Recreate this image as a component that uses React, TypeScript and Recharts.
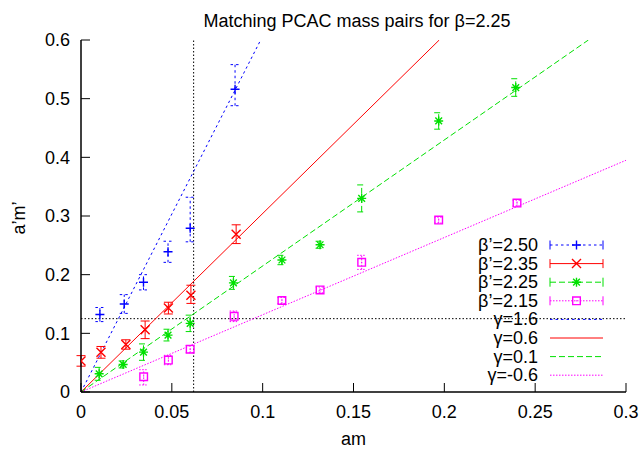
import React from 'react';
import { ComposedChart, XAxis, YAxis, Scatter, Line, ErrorBar, ReferenceLine, Legend } from 'recharts';

const FONT = '"Liberation Sans", Arial, Helvetica, sans-serif';
const FS = 18;

const TITLE = 'Matching PCAC mass pairs for β=2.25';
const X_LABEL = 'am';
const Y_LABEL = 'a’m’';

const xTicks = [0, 0.05, 0.1, 0.15, 0.2, 0.25, 0.3];
const xTickLabels = ['0', '0.05', '0.1', '0.15', '0.2', '0.25', '0.3'];
const yTicks = [0, 0.1, 0.2, 0.3, 0.4, 0.5, 0.6];
const yTickLabels = ['0', '0.1', '0.2', '0.3', '0.4', '0.5', '0.6'];

// beta' = 2.50 (blue)
const am250 = [0.0104, 0.0238, 0.0344, 0.0479, 0.0601, 0.0848];
const val250 = [0.132, 0.150, 0.187, 0.239, 0.279, 0.516];
const lo250 = [0.012, 0.016, 0.013, 0.018, 0.023, 0.028];
const hi250 = [0.012, 0.016, 0.013, 0.018, 0.053, 0.042];

// beta' = 2.35 (red)
const am235 = [0.0, 0.011, 0.0247, 0.0353, 0.0481, 0.0605, 0.0854];
const val235 = [0.053, 0.0676, 0.081, 0.106, 0.143, 0.165, 0.269];
const lo235 = [0.009, 0.01, 0.008, 0.015, 0.01, 0.014, 0.016];
const hi235 = [0.009, 0.01, 0.008, 0.015, 0.01, 0.017, 0.016];

// beta' = 2.25 (green)
const am225 = [0.01, 0.0232, 0.0344, 0.0479, 0.0601, 0.0839, 0.1106, 0.1316, 0.1545, 0.1969, 0.2393];
const val225 = [0.031, 0.047, 0.068, 0.097, 0.117, 0.186, 0.225, 0.251, 0.330, 0.462, 0.519];
const lo225 = [0.011, 0.006, 0.014, 0.01, 0.014, 0.011, 0.008, 0.006, 0.023, 0.014, 0.015];
const hi225 = [0.011, 0.006, 0.014, 0.01, 0.014, 0.011, 0.008, 0.006, 0.023, 0.014, 0.015];

// beta' = 2.15 (magenta)
const am215 = [0.0345, 0.0481, 0.0601, 0.0843, 0.1106, 0.1316, 0.1545, 0.1969, 0.24];
const val215 = [0.026, 0.0545, 0.073, 0.129, 0.156, 0.174, 0.221, 0.293, 0.322];
const lo215 = [0.014, 0.008, 0.006, 0.009, 0.005, 0.005, 0.012, 0.005, 0.005];
const hi215 = [0.012, 0.008, 0.006, 0.009, 0.005, 0.005, 0.012, 0.005, 0.005];

// gamma lines: start and end points
const g16Am = [0, 0.0989];
const g16Val = [0, 0.6];
const g06Am = [0, 0.1972];
const g06Val = [0, 0.6];
const g01Am = [0, 0.2793];
const g01Val = [0, 0.6];
const gm06Am = [0, 0.3];
const gm06Val = [0, 0.395];

// dotted reference lines
const refX = 0.062;
const refY = 0.125;

const seriesNames = ['β’=2.50', 'β’=2.35', 'β’=2.25', 'β’=2.15'];
const gammaNames = ['γ=1.6', 'γ=0.6', 'γ=0.1', 'γ=-0.6'];

const BLUE = '#0000ff';
const RED = '#ff0000';
const GREEN = '#00e000';
const MAGENTA = '#ff00ff';
const colors = [BLUE, RED, GREEN, MAGENTA];
const dashes = ['2.5 3', undefined, '6 3', '1.5 1.5'];

const toPoints = (am: number[], v: number[], lo: number[], hi: number[]) =>
  am.map((a, i) => ({ am: a, y: v[i], err: [lo[i], hi[i]] }));
const toLine = (am: number[], v: number[]) => am.map((a, i) => ({ am: a, y: v[i] }));

const d250 = toPoints(am250, val250, lo250, hi250);
const d235 = toPoints(am235, val235, lo235, hi235);
const d225 = toPoints(am225, val225, lo225, hi225);
const d215 = toPoints(am215, val215, lo215, hi215);

const l16 = toLine(g16Am, g16Val);
const l06 = toLine(g06Am, g06Val);
const l01 = toLine(g01Am, g01Val);
const lm06 = toLine(gm06Am, gm06Val);

type MP = { cx?: number; cy?: number };

const markerPath = (kind: number, cx: number, cy: number) => {
  const s = 4.5;
  if (kind === 0) return `M${cx - s},${cy}H${cx + s}M${cx},${cy - s}V${cy + s}`;
  if (kind === 1) return `M${cx - s},${cy - s}L${cx + s},${cy + s}M${cx - s},${cy + s}L${cx + s},${cy - s}`;
  if (kind === 2)
    return `M${cx - s},${cy}H${cx + s}M${cx},${cy - s}V${cy + s}M${cx - s * 0.75},${cy - s * 0.75}L${cx + s * 0.75},${cy + s * 0.75}M${cx - s * 0.75},${cy + s * 0.75}L${cx + s * 0.75},${cy - s * 0.75}`;
  const q = 3.8;
  return `M${cx - q},${cy - q}H${cx + q}V${cy + q}H${cx - q}Z`;
};

const makeShape = (kind: number) => (p: MP) => {
  if (p.cx == null || p.cy == null) return <g />;
  return (
    <g>
      <path d={markerPath(kind, p.cx, p.cy)} stroke={colors[kind]} strokeWidth={1.4} fill="none" />
      {kind === 3 ? <circle cx={p.cx} cy={p.cy} r={0.6} fill={colors[kind]} /> : null}
    </g>
  );
};

const YLabel = (props: any) => {
  const vb = props.viewBox || {};
  const x = (vb.x ?? 0) + 19;
  const y = (vb.y ?? 0) + (vb.height ?? 0) / 2 + 2;
  return (
    <text
      x={x}
      y={y}
      transform={`rotate(-90, ${x}, ${y})`}
      textAnchor="middle"
      dominantBaseline="central"
      fontSize={FS}
      fontFamily={FONT}
      fill="#000"
    >
      {Y_LABEL}
    </text>
  );
};

const LegendBox = () => {
  const rowH = 18.6;
  const textX = 98;
  const x1 = 110;
  const x2 = 163;
  const xm = (x1 + x2) / 2;
  return (
    <svg width={200} height={160} style={{ overflow: 'visible' }}>
      {seriesNames.map((n, i) => {
        const y = 10 + i * rowH;
        return (
          <g key={n}>
            <text x={textX} y={y} textAnchor="end" dominantBaseline="central" fontSize={FS} fontFamily={FONT} fill="#000">
              {n}
            </text>
            <line x1={x1} y1={y} x2={x2} y2={y} stroke={colors[i]} strokeWidth={1} strokeDasharray={dashes[i]} />
            <line x1={x1} y1={y - 4.5} x2={x1} y2={y + 4.5} stroke={colors[i]} strokeWidth={1} />
            <line x1={x2} y1={y - 4.5} x2={x2} y2={y + 4.5} stroke={colors[i]} strokeWidth={1} />
            {makeShape(i)({ cx: xm, cy: y })}
          </g>
        );
      })}
      {gammaNames.map((n, i) => {
        const y = 10 + (i + 4) * rowH;
        return (
          <g key={n}>
            <text x={textX} y={y} textAnchor="end" dominantBaseline="central" fontSize={FS} fontFamily={FONT} fill="#000">
              {n}
            </text>
            <line x1={x1} y1={y} x2={x2} y2={y} stroke={colors[i]} strokeWidth={1} strokeDasharray={dashes[i]} />
          </g>
        );
      })}
    </svg>
  );
};

const tickStyle = { fontSize: FS, fontFamily: FONT, fill: '#000' };

export default function App() {
  return (
    <div style={{ position: 'absolute', left: 0, top: 0, width: 642, height: 451, background: '#fff' }}>
      <div
        style={{
          position: 'absolute',
          left: 81,
          top: 12,
          width: 552,
          textAlign: 'center',
          fontFamily: FONT,
          fontSize: FS,
          lineHeight: `${FS}px`,
          color: '#000',
          whiteSpace: 'nowrap',
        }}
      >
        {TITLE}
      </div>
      <ComposedChart width={642} height={451} margin={{ top: 40, right: 16, bottom: 0, left: 0 }}>
        <XAxis
          dataKey="am"
          type="number"
          domain={[0, 0.3]}
          ticks={xTicks}
          tickFormatter={(v: number) => xTickLabels[xTicks.indexOf(v)] ?? String(v)}
          height={59}
          tickSize={-9}
          tickMargin={22}
          tick={tickStyle}
          axisLine={{ stroke: '#000', strokeWidth: 1.5 }}
          tickLine={{ stroke: '#000', strokeWidth: 1 }}
          allowDataOverflow
          interval={0}
          label={{ value: X_LABEL, position: 'insideBottom', offset: 6, fontSize: FS, fontFamily: FONT, fill: '#000' }}
        />
        <XAxis
          xAxisId="top"
          orientation="top"
          type="number"
          domain={[0, 0.3]}
          ticks={xTicks}
          tickFormatter={() => ''}
          height={0}
          tickSize={-9}
          axisLine={{ stroke: '#000', strokeWidth: 1.5 }}
          tickLine={{ stroke: '#000', strokeWidth: 1 }}
          interval={0}
        />
        <YAxis
          type="number"
          domain={[0, 0.6]}
          ticks={yTicks}
          tickFormatter={(v: number) => yTickLabels[yTicks.indexOf(v)] ?? String(v)}
          width={81}
          tickSize={-9}
          tickMargin={20}
          tick={tickStyle}
          axisLine={{ stroke: '#000', strokeWidth: 1.5 }}
          tickLine={{ stroke: '#000', strokeWidth: 1 }}
          allowDataOverflow
          interval={0}
          label={<YLabel />}
        />
        <YAxis
          yAxisId="right"
          orientation="right"
          type="number"
          domain={[0, 0.6]}
          ticks={yTicks}
          tickFormatter={() => ''}
          width={0}
          tickSize={-9}
          axisLine={{ stroke: '#000', strokeWidth: 1.5 }}
          tickLine={{ stroke: '#000', strokeWidth: 1 }}
          interval={0}
        />
        <ReferenceLine x={refX} stroke="#000" strokeWidth={1} strokeDasharray="1.5 2" />
        <ReferenceLine y={refY} stroke="#000" strokeWidth={1} strokeDasharray="1.5 2" />

        <Line data={l16} dataKey="y" stroke={BLUE} strokeWidth={1} strokeDasharray={dashes[0]} dot={false} activeDot={false} isAnimationActive={false} legendType="none" />
        <Line data={l06} dataKey="y" stroke={RED} strokeWidth={1} dot={false} activeDot={false} isAnimationActive={false} legendType="none" />
        <Line data={l01} dataKey="y" stroke={GREEN} strokeWidth={1} strokeDasharray={dashes[2]} dot={false} activeDot={false} isAnimationActive={false} legendType="none" />
        <Line data={lm06} dataKey="y" stroke={MAGENTA} strokeWidth={1} strokeDasharray={dashes[3]} dot={false} activeDot={false} isAnimationActive={false} legendType="none" />

        <Scatter data={d250} dataKey="y" shape={makeShape(0)} isAnimationActive={false}>
          <ErrorBar dataKey="err" direction="y" width={4.5} stroke={BLUE} strokeWidth={1} strokeDasharray="2.5 3" />
        </Scatter>
        <Scatter data={d235} dataKey="y" shape={makeShape(1)} isAnimationActive={false}>
          <ErrorBar dataKey="err" direction="y" width={4.5} stroke={RED} strokeWidth={1} />
        </Scatter>
        <Scatter data={d225} dataKey="y" shape={makeShape(2)} isAnimationActive={false}>
          <ErrorBar dataKey="err" direction="y" width={4.5} stroke={GREEN} strokeWidth={1} strokeDasharray="6 3" />
        </Scatter>
        <Scatter data={d215} dataKey="y" shape={makeShape(3)} isAnimationActive={false}>
          <ErrorBar dataKey="err" direction="y" width={4.5} stroke={MAGENTA} strokeWidth={1} strokeDasharray="1.5 1.5" />
        </Scatter>

        <Legend
          layout="horizontal"
          verticalAlign="middle"
          align="center"
          content={() => <LegendBox />}
          wrapperStyle={{ position: 'absolute', left: 440, top: 235, width: 200, height: 160 }}
        />
      </ComposedChart>
    </div>
  );
}
